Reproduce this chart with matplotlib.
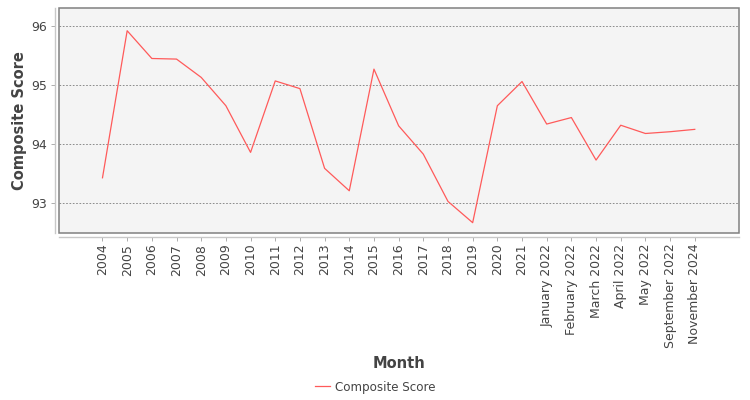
import matplotlib
matplotlib.use("Agg")
import matplotlib.pyplot as plt
from matplotlib.patches import Rectangle

# Category labels and composite score values
months = [
    "2004", "2005", "2006", "2007", "2008", "2009", "2010", "2011", "2012",
    "2013", "2014", "2015", "2016", "2017", "2018", "2019", "2020", "2021",
    "January 2022", "February 2022", "March 2022", "April 2022", "May 2022",
    "September 2022", "November 2024",
]
composite_score = [
    93.43, 95.92, 95.45, 95.44, 95.13, 94.65, 93.86, 95.07, 94.94,
    93.59, 93.21, 95.27, 94.31, 93.83, 93.03, 92.67, 94.65, 95.06,
    94.34, 94.45, 93.73, 94.32, 94.18, 94.21, 94.25,
]
y_ticks = [93, 94, 95, 96]

plt.rcParams['font.family'] = ['DejaVu Sans']

W, H = 750, 400
fig = plt.figure(figsize=(W / 100, H / 100), dpi=100)

left, right, top, bottom = 59.3, 738.7, 8.0, 233.3
ax = fig.add_axes([left / W, 1 - bottom / H, (right - left) / W, (bottom - top) / H])
ax.set_facecolor("#f4f4f4")

x = list(range(len(months)))
line, = ax.plot(x, composite_score, color="#ff5a5a", linewidth=0.9, label="Composite Score")

ax.set_xlim(-1.75, len(months) - 1 + 1.78)
ax.set_ylim(92.49, 96.305)

ax.set_yticks(y_ticks)
ax.set_yticklabels([str(t) for t in y_ticks])
ax.set_xticks(x)
ax.set_xticklabels(months)

ax.grid(True, axis="y", color="#7a7a7a", linestyle=(0, (2, 2)), linewidth=0.6)
ax.set_axisbelow(True)

# frame around the plot area
for s in ["top", "right"]:
    ax.spines[s].set_visible(False)
for s in ["left", "bottom"]:
    ax.spines[s].set_position(("outward", 3))
    ax.spines[s].set_color("#c8c8c8")
    ax.spines[s].set_linewidth(1.0)
ax.add_patch(Rectangle((0, 0), 1, 1, transform=ax.transAxes, fill=False,
                       edgecolor="#808080", linewidth=1.1, zorder=5, clip_on=False))

ax.tick_params(axis="y", direction="out", length=3, width=0.6, color="#a0a0a0",
               labelsize=9, labelcolor="#444444", pad=3)
ax.tick_params(axis="x", direction="out", length=3, width=0.6, color="#a0a0a0",
               labelsize=9, labelcolor="#444444", pad=1.5, labelrotation=90)

fig.text(20 / W, 1 - 120.5 / H, "Composite Score", rotation=90, ha="center", va="center",
         fontsize=10.5, fontweight="bold", color="#444444")
fig.text(398.5 / W, 1 - 364 / H, "Month", ha="center", va="center",
         fontsize=10.5, fontweight="bold", color="#444444")

fig.legend(handles=[line], loc="center", bbox_to_anchor=(375 / W, 1 - 387 / H),
           frameon=False, fontsize=8.6, handlelength=1.3, handletextpad=0.35,
           labelcolor="#444444")

fig.savefig("out.png", dpi=100)
